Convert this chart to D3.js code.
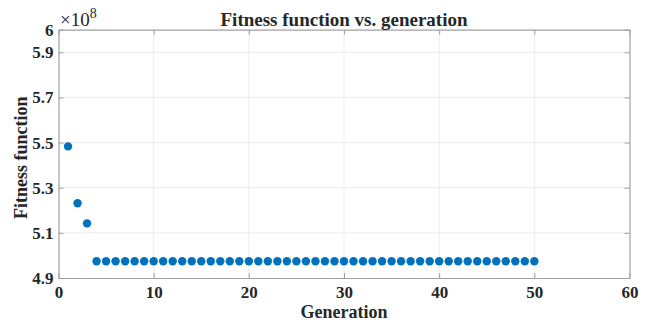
<!DOCTYPE html>
<html>
<head>
<meta charset="utf-8">
<script src="https://cdn.jsdelivr.net/npm/d3@7"></script>
<style>
  body { margin: 0; background: #fff; }
  svg text { font-family: "Liberation Serif", "Times New Roman", serif; font-weight: bold; fill: #262626; }
</style>
</head>
<body>
<svg id="chart" width="651" height="322"></svg>
<script>
// generation index and best fitness (x 1e8)
const generations = d3.range(1, 51);
const fitness = [5.483, 5.231, 5.142].concat(d3.range(47).map(() => 4.974));
const xTicks = [0, 10, 20, 30, 40, 50, 60];
const yTicks = [4.9, 5.1, 5.3, 5.5, 5.7, 5.9, 6];

const serif = '"Liberation Serif", "Times New Roman", serif';
const svg = d3.select('#chart');
const m = {left: 58.5, top: 29.7, right: 629.5, bottom: 278};

const x = d3.scaleLinear().domain([0, 60]).range([m.left, m.right]);
const y = d3.scaleLinear().domain([4.9, 6]).range([m.bottom, m.top]);

// grid
let grid = svg.append('g');
grid.selectAll('.gx').data(xTicks.slice(1, -1)).enter().append('line')
  .attr('x1', d => x(d)).attr('x2', d => x(d))
  .attr('y1', m.top).attr('y2', m.bottom)
  .style('stroke', '#ebebeb').style('stroke-width', 1);
grid.selectAll('.gy').data(yTicks.slice(1, -1)).enter().append('line')
  .attr('x1', m.left).attr('x2', m.right)
  .attr('y1', d => y(d)).attr('y2', d => y(d))
  .style('stroke', '#ebebeb').style('stroke-width', 1);

// axes (ticks inside, box on)
const tickLen = 5;
let axB = svg.append('g').attr('transform', `translate(0 ${m.bottom})`)
  .call(d3.axisBottom(x).tickValues(xTicks).tickSize(-tickLen).tickPadding(8).tickSizeOuter(0));
let axT = svg.append('g').attr('transform', `translate(0 ${m.top})`)
  .call(d3.axisTop(x).tickValues(xTicks).tickSize(-tickLen).tickFormat('').tickSizeOuter(0));
let axL = svg.append('g').attr('transform', `translate(${m.left} 0)`)
  .call(d3.axisLeft(y).tickValues(yTicks).tickSize(-tickLen).tickPadding(5).tickSizeOuter(0)
    .tickFormat(d => d == 6 ? '6' : d3.format('.1f')(d)));
let axR = svg.append('g').attr('transform', `translate(${m.right} 0)`)
  .call(d3.axisRight(y).tickValues(yTicks).tickSize(-tickLen).tickFormat('').tickSizeOuter(0));

[axB, axT, axL, axR].forEach(g => {
  g.attr('font-family', null).attr('font-size', null);
  g.selectAll('.domain').style('stroke', '#a0a0a0').style('stroke-width', 1.2);
  g.selectAll('.tick line').style('stroke', '#a0a0a0');
  g.selectAll('text')
    .style('font-family', serif).style('font-weight', 'bold')
    .style('font-size', '17px').attr('fill', null);
});

// points
svg.append('g').selectAll('circle').data(generations).enter().append('circle')
  .attr('cx', d => x(d))
  .attr('cy', (d, i) => y(fitness[i]))
  .attr('r', 4.2)
  .style('fill', '#0072BD');

// exponent
let ex = svg.append('text').attr('x', 60).attr('y', 26)
  .style('font-family', serif).style('font-size', '19px').style('font-weight', 'normal');
ex.append('tspan').text('×10');
ex.append('tspan').attr('dy', -8).style('font-size', '14px').text('8');

// title and labels
svg.append('text').attr('x', x(30)).attr('y', 26).attr('text-anchor', 'middle')
  .style('font-family', serif).style('font-size', '19px').text('Fitness function vs. generation');
svg.append('text').attr('x', x(30)).attr('y', 318).attr('text-anchor', 'middle')
  .style('font-family', serif).style('font-size', '18px').text('Generation');
svg.append('text').attr('transform', `translate(27 ${(m.top + m.bottom) / 2 + 4}) rotate(-90)`)
  .attr('text-anchor', 'middle')
  .style('font-family', serif).style('font-size', '18px').text('Fitness function');
</script>
</body>
</html>
